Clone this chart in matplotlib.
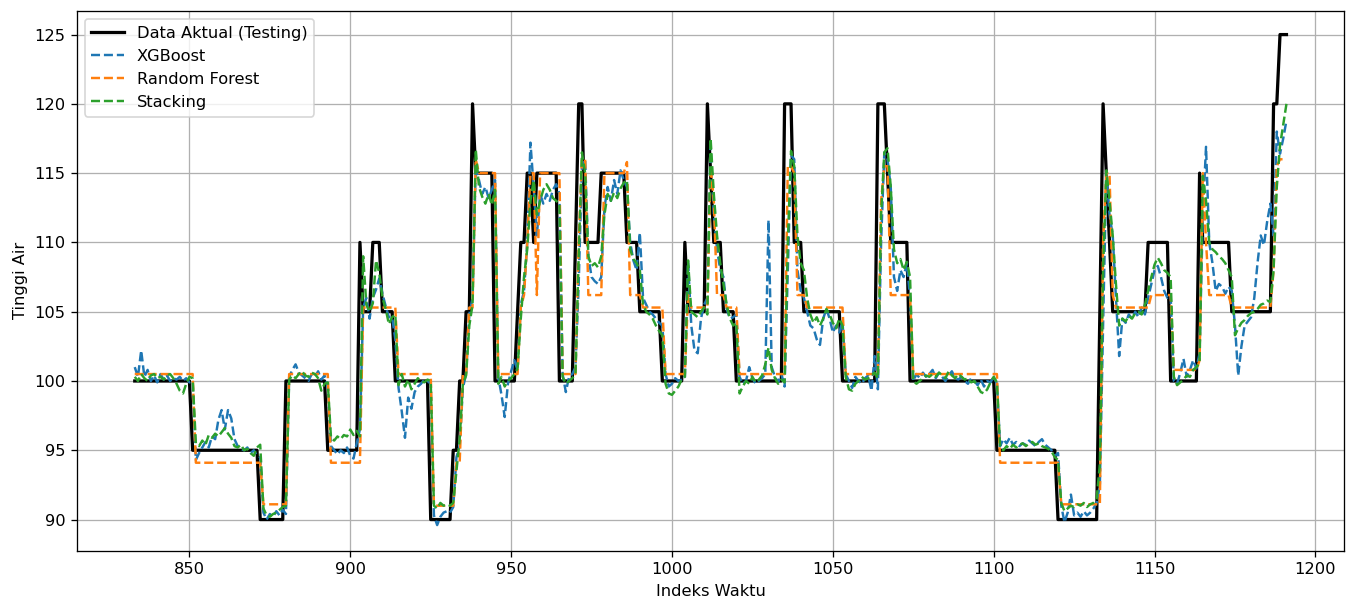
import numpy as np
import matplotlib
matplotlib.use("Agg")
import matplotlib.pyplot as plt

# ---------------- data ----------------
START_INDEX = 833
END_INDEX = 1191

# actual series stored as run-length (level, count)
actual_levels = [100, 95, 90, 100, 95, 110, 105, 110, 105, 100, 90, 95, 100, 105, 120, 115,
                 100, 105, 110, 115, 110, 115, 100, 110, 120, 110, 115, 110, 105, 100, 110,
                 105, 120, 115, 110, 105, 100, 120, 110, 105, 100, 120, 115, 110, 100, 95,
                 90, 105, 120, 115, 110, 105, 110, 100, 115, 110, 105, 120, 125]
actual_counts = [18, 21, 8, 13, 10, 1, 3, 3, 4, 11, 7, 2, 2, 2, 1, 6,
                 7, 1, 2, 2, 1, 7, 5, 1, 2, 5, 8, 4, 7, 7, 1,
                 6, 1, 1, 3, 4, 15, 3, 3, 12, 11, 3, 1, 6, 27, 19,
                 13, 1, 1, 1, 1, 11, 7, 9, 1, 9, 13, 2, 3]

# random forest predictions (step-like) as run-length (level, count)
rf_levels = [100.5, 94.1, 91.1, 100.5, 94.1, 105.3, 100.5, 91.0, 94.1, 100.5, 105.3, 116.0,
             115.0, 100.5, 105.3, 106.2, 110.0, 115.0, 106.2, 115.0, 100.5, 110.0, 116.0,
             106.2, 115.0, 115.8, 106.2, 105.3, 100.5, 106.2, 105.3, 115.5, 113.0, 106.2,
             105.3, 100.5, 115.5, 115.0, 106.2, 105.3, 100.5, 113.0, 115.5, 106.2, 100.5,
             94.1, 91.1, 110.0, 115.0, 106.2, 105.3, 106.2, 100.8, 101.5, 115.0, 110.0,
             106.2, 105.3, 108.0, 115.5, 116.0]
rf_counts = [19, 21, 8, 13, 10, 11, 11, 7, 2, 2, 2, 1,
             6, 7, 1, 1, 1, 2, 1, 7, 5, 1, 2,
             5, 7, 1, 4, 7, 7, 1, 6, 1, 1, 3,
             4, 15, 2, 1, 3, 12, 11, 1, 2, 7, 27,
             19, 13, 1, 2, 1, 11, 7, 8, 1, 1, 1,
             7, 13, 1, 1, 3]

# XGBoost predictions, index 833 .. 1191 (rows of 10)
xgb_values = [
    101.0, 100.3, 102.2, 100.3, 100.8, 100.0, 100.4, 99.9, 100.5, 100.1,   # 833
    100.4, 100.0, 100.2, 100.1, 100.3, 100.0, 100.2, 99.9, 100.0, 94.3,    # 843
    94.8, 95.2, 95.6, 95.2, 96.0, 95.8, 97.2, 97.9, 96.5, 97.9,            # 853
    97.3, 95.8, 95.3, 95.1, 95.0, 95.2, 94.8, 95.0, 94.6, 94.5,            # 863
    90.5, 90.0, 90.4, 90.2, 90.6, 90.3, 90.7, 90.4, 100.3, 100.8,          # 873
    101.2, 100.6, 100.4, 100.2, 100.0, 100.5, 100.3, 100.7, 100.1, 100.4,  # 883
    99.6, 95.3, 95.0, 94.7, 95.0, 94.8, 95.2, 94.6, 94.4, 95.5,            # 893
    96.5, 105.3, 106.0, 104.5, 106.0, 106.6, 107.4, 106.3, 105.4, 104.6,   # 903
    104.6, 103.0, 99.5, 97.8, 95.9, 98.8, 98.0, 99.2, 99.6, 99.8,          # 913
    100.1, 100.0, 99.8, 90.3, 89.6, 90.2, 90.5, 90.6, 90.5, 90.9,          # 923
    94.5, 95.3, 99.5, 100.5, 104.8, 106.0, 115.5, 114.5, 113.5, 114.0,     # 933
    113.2, 113.8, 114.5, 100.3, 99.0, 97.4, 99.8, 100.7, 101.5, 100.8,     # 943
    105.5, 106.5, 110.0, 117.2, 114.0, 110.5, 113.5, 112.8, 113.5, 113.0,  # 953
    113.8, 114.2, 113.5, 100.5, 99.2, 100.3, 100.5, 101.0, 107.0, 115.5,   # 963
    116.0, 109.0, 107.5, 107.2, 107.0, 107.5, 112.5, 114.0, 113.0, 114.5,  # 973
    113.5, 115.2, 114.5, 114.0, 110.0, 108.7, 108.0, 110.7, 106.0, 105.5,  # 983
    105.0, 104.8, 104.5, 104.2, 104.0, 100.5, 99.6, 99.8, 100.2, 100.0,    # 993
    100.1, 100.2, 108.6, 104.0, 102.2, 102.0, 104.5, 105.5, 106.0, 117.0,  # 1003
    112.0, 109.5, 108.0, 107.5, 105.2, 104.5, 104.6, 104.8, 100.3, 99.8,   # 1013
    100.0, 101.0, 100.2, 99.8, 100.0, 100.2, 100.5, 111.6, 101.0, 100.3,   # 1023
    99.9, 100.5, 99.6, 108.0, 116.3, 116.0, 108.0, 106.5, 106.0, 105.0,    # 1033
    104.0, 103.8, 103.0, 102.6, 104.5, 105.2, 104.5, 103.5, 104.0, 103.5,  # 1043
    104.3, 100.5, 100.0, 99.5, 100.3, 100.0, 99.8, 100.2, 100.4, 99.3,     # 1053
    101.8, 99.4, 110.0, 116.5, 116.0, 114.0, 107.5, 106.5, 108.0, 107.5,   # 1063
    108.5, 106.0, 100.0, 100.5, 100.2, 100.6, 100.3, 100.5, 100.8, 100.2,  # 1073
    100.6, 100.3, 100.0, 100.4, 100.7, 100.2, 100.1, 100.3, 100.0, 99.8,   # 1083
    100.2, 100.0, 99.7, 100.1, 99.6, 100.0, 99.9, 100.3, 99.8, 95.3,       # 1093
    95.8, 95.5, 95.9, 95.4, 95.6, 95.3, 95.5, 95.4, 95.7, 95.5,            # 1103
    95.3, 95.6, 95.8, 95.4, 95.2, 95.0, 94.6, 94.8, 91.0, 89.8,            # 1113
    90.5, 91.8, 90.3, 90.5, 90.2, 90.6, 90.3, 90.5, 90.8, 91.2,            # 1123
    92.5, 104.0, 115.0, 112.0, 110.5, 106.0, 101.8, 104.5, 104.2, 104.8,   # 1133
    104.5, 105.0, 104.6, 105.3, 104.8, 106.0, 107.0, 108.0, 108.3, 107.5,  # 1143
    106.5, 106.0, 106.2, 100.0, 99.8, 100.6, 101.6, 100.3, 100.8, 101.5,   # 1153
    100.9, 102.0, 112.0, 116.9, 110.0, 108.5, 106.5, 107.0, 106.8, 106.3,  # 1163
    106.8, 106.5, 104.0, 100.4, 102.5, 104.0, 104.3, 104.6, 106.0, 108.5,  # 1173
    110.5, 109.8, 111.5, 112.8, 110.5, 118.0, 116.4, 117.5, 118.8,         # 1183
]

# Stacking predictions, index 833 .. 1191 (rows of 10)
stack_values = [
    100.3, 100.0, 100.5, 100.2, 100.0, 100.4, 100.5, 100.2, 100.3, 100.1,  # 833
    100.4, 100.5, 100.2, 99.8, 99.3, 99.1, 99.8, 100.3, 100.2, 95.5,       # 843
    95.3, 95.7, 95.4, 96.1, 95.9, 96.2, 96.0, 96.3, 96.6, 96.2,            # 853
    95.9, 95.3, 95.2, 95.4, 95.0, 95.1, 94.8, 94.6, 95.2, 95.4,            # 863
    90.8, 90.3, 90.2, 90.4, 90.5, 90.7, 90.9, 91.0, 100.1, 100.4,          # 873
    100.2, 100.5, 100.7, 100.4, 100.3, 100.6, 100.5, 100.2, 99.3, 99.8,    # 883
    99.9, 95.9, 95.7, 96.0, 95.8, 96.1, 96.0, 96.5, 96.1, 96.4,            # 893
    96.0, 109.0, 105.5, 105.0, 105.6, 108.7, 107.8, 106.0, 105.2, 104.1,   # 903
    104.6, 104.8, 99.7, 100.5, 99.6, 100.1, 99.4, 99.8, 100.2, 100.0,      # 913
    99.9, 100.1, 100.0, 91.0, 90.8, 91.2, 91.0, 91.1, 91.0, 91.2,          # 923
    93.5, 95.8, 99.8, 100.4, 104.0, 105.5, 116.7, 114.0, 113.3, 112.8,     # 933
    113.5, 112.7, 113.8, 99.8, 100.3, 99.6, 100.0, 100.2, 100.5, 100.9,    # 943
    104.5, 107.5, 109.5, 113.0, 114.5, 112.0, 113.0, 113.8, 114.2, 113.8,  # 953
    113.2, 113.0, 112.8, 100.3, 99.8, 100.0, 100.2, 100.5, 109.0, 116.5,   # 963
    115.0, 109.0, 108.3, 108.5, 108.2, 109.0, 112.0, 113.5, 113.0, 113.6,  # 973
    113.2, 113.9, 114.3, 114.5, 109.5, 108.8, 108.5, 108.0, 105.5, 105.0,  # 983
    104.8, 104.5, 104.0, 103.6, 103.3, 99.8, 99.1, 99.0, 99.3, 99.6,       # 993
    100.1, 100.3, 108.7, 105.0, 104.8, 104.6, 105.0, 105.3, 104.8, 117.5,  # 1003
    113.5, 110.5, 108.5, 107.0, 105.5, 104.5, 104.0, 104.2, 99.1, 99.6,    # 1013
    100.0, 99.8, 100.3, 99.9, 100.1, 100.4, 101.2, 102.4, 100.8, 100.2,    # 1023
    99.8, 100.1, 99.9, 110.0, 116.6, 115.5, 110.5, 108.5, 108.0, 106.0,    # 1033
    104.8, 104.2, 104.6, 104.0, 104.5, 105.2, 104.8, 104.2, 103.8, 104.5,  # 1043
    104.0, 100.3, 99.4, 99.3, 99.8, 100.0, 100.3, 100.1, 100.2, 100.4,     # 1053
    100.6, 100.2, 112.0, 116.5, 116.8, 114.0, 109.5, 108.5, 108.8, 108.0,  # 1063
    108.6, 107.5, 100.0, 99.8, 100.0, 100.2, 100.4, 100.3, 100.5, 100.3,   # 1073
    100.6, 100.4, 100.2, 100.7, 100.4, 100.2, 100.5, 100.3, 100.1, 100.2,  # 1083
    99.9, 100.0, 99.6, 99.2, 99.1, 99.4, 99.9, 100.3, 99.9, 95.2,          # 1093
    95.0, 95.3, 95.1, 95.4, 95.2, 95.4, 95.5, 95.3, 95.5, 95.6,            # 1103
    95.4, 95.5, 95.3, 95.2, 95.1, 94.9, 94.5, 94.3, 91.2, 90.6,            # 1113
    90.8, 91.0, 90.9, 91.1, 91.0, 91.2, 90.9, 91.1, 91.2, 91.5,            # 1123
    94.0, 108.0, 115.2, 113.0, 110.5, 107.0, 104.0, 104.5, 104.3, 104.7,   # 1133
    104.5, 104.9, 105.0, 104.8, 105.5, 106.5, 107.5, 108.4, 108.9, 108.5,  # 1143
    108.0, 107.8, 107.5, 100.3, 99.7, 99.9, 100.1, 100.4, 100.3, 100.8,    # 1153
    101.0, 101.3, 114.8, 113.0, 110.0, 109.5, 109.3, 109.0, 108.8, 108.5,  # 1163
    108.0, 107.5, 103.3, 103.8, 104.2, 104.4, 104.7, 104.9, 105.0, 105.2,  # 1173
    105.5, 105.6, 105.8, 105.7, 108.0, 114.0, 117.0, 118.5, 120.0,         # 1183
]

legend_labels = ["Data Aktual (Testing)", "XGBoost", "Random Forest", "Stacking"]
x_label = "Indeks Waktu"
y_label = "Tinggi Air"

# ---------------- build ----------------
idx = np.arange(START_INDEX, END_INDEX + 1)
actual = np.repeat(actual_levels, actual_counts).astype(float)
rf = np.repeat(rf_levels, rf_counts).astype(float)
xgb = np.array(xgb_values, dtype=float)
stack = np.array(stack_values, dtype=float)
for name, arr in [("actual", actual), ("rf", rf), ("xgb", xgb), ("stack", stack)]:
    if len(arr) != len(idx):
        raise ValueError(f"{name} has {len(arr)} values, expected {len(idx)}")

# ---------------- plot ----------------
DPI = 117
fig = plt.figure(figsize=(1348 / DPI, 599 / DPI), dpi=DPI)
ax = fig.add_axes([0.057, 0.0806, 0.9403, 0.901])

ax.plot(idx, actual, color="black", linewidth=2, label=legend_labels[0])
ax.plot(idx, xgb, color="#1f77b4", linestyle="--", linewidth=1.5, label=legend_labels[1])
ax.plot(idx, rf, color="#ff7f0e", linestyle="--", linewidth=1.5, label=legend_labels[2])
ax.plot(idx, stack, color="#2ca02c", linestyle="--", linewidth=1.5, label=legend_labels[3])

ax.set_xlim(815.0, 1209.0)
ax.set_ylim(87.75, 126.7)
ax.set_xticks([850, 900, 950, 1000, 1050, 1100, 1150, 1200])
ax.set_yticks([90, 95, 100, 105, 110, 115, 120, 125])
ax.set_xlabel(x_label, fontsize=10)
ax.set_ylabel(y_label, fontsize=10)
ax.grid(True)
ax.legend(loc="upper left", fontsize=10)

fig.savefig("out.png", dpi=DPI)
